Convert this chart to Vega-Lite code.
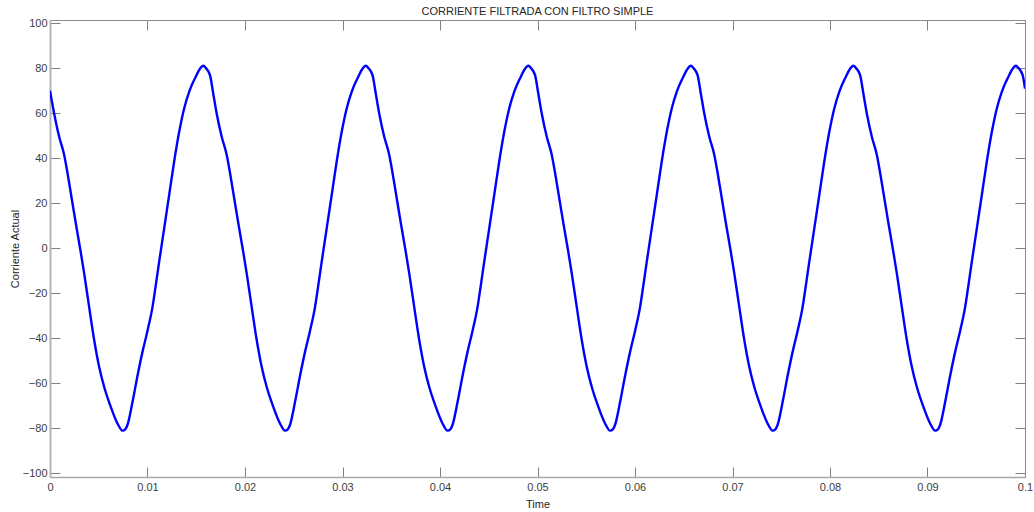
{
  "$schema": "https://vega.github.io/schema/vega-lite/v6.json",
  "width": 975,
  "height": 457,
  "autosize": {"type": "none"},
  "padding": {"left": 50, "top": 20, "right": 9, "bottom": 35},
  "background": "white",
  "title": {
    "text": "CORRIENTE FILTRADA CON FILTRO SIMPLE",
    "font": "Liberation Sans",
    "fontSize": 11,
    "fontWeight": "normal",
    "color": "#262626",
    "anchor": "middle",
    "frame": "group",
    "offset": 4,
    "dy": 4
  },
  "config": {
    "view": {"stroke": null},
    "axis": {
      "grid": false,
      "labelFont": "Liberation Sans",
      "labelFontSize": 11,
      "labelColor": "#404040",
      "titleFont": "Liberation Sans",
      "titleFontSize": 11,
      "titleFontWeight": "normal",
      "titleColor": "#262626",
      "tickColor": "#808080",
      "tickSize": -10,
      "tickWidth": 1,
      "labelOverlap": false,
      "labelFlush": false,
      "labelBound": false
    }
  },
  "data": {
    "values": [
      {"t": 0.0, "corriente": 70.1},
      {"t": 0.00042, "corriente": 60.1},
      {"t": 0.00094, "corriente": 49.6},
      {"t": 0.00145, "corriente": 41.6},
      {"t": 0.00179, "corriente": 33.6},
      {"t": 0.00213, "corriente": 24.7},
      {"t": 0.00264, "corriente": 11.3},
      {"t": 0.00315, "corriente": -1.6},
      {"t": 0.0035, "corriente": -11.0},
      {"t": 0.00401, "corriente": -25.9},
      {"t": 0.00453, "corriente": -40.7},
      {"t": 0.00504, "corriente": -52.6},
      {"t": 0.00555, "corriente": -61.5},
      {"t": 0.00623, "corriente": -70.4},
      {"t": 0.00692, "corriente": -77.8},
      {"t": 0.00743, "corriente": -81.0},
      {"t": 0.00774, "corriente": -80.3},
      {"t": 0.00794, "corriente": -78.5},
      {"t": 0.00846, "corriente": -68.3},
      {"t": 0.00897, "corriente": -56.7},
      {"t": 0.00948, "corriente": -46.1},
      {"t": 0.00999, "corriente": -36.8},
      {"t": 0.01051, "corriente": -26.1},
      {"t": 0.01085, "corriente": -16.3},
      {"t": 0.01119, "corriente": -6.1},
      {"t": 0.01171, "corriente": 8.9},
      {"t": 0.01222, "corriente": 23.7},
      {"t": 0.01273, "corriente": 38.5},
      {"t": 0.01325, "corriente": 51.8},
      {"t": 0.01376, "corriente": 62.2},
      {"t": 0.01427, "corriente": 69.6},
      {"t": 0.01495, "corriente": 76.3},
      {"t": 0.01533, "corriente": 79.5},
      {"t": 0.01572, "corriente": 81.2},
      {"t": 0.016, "corriente": 80.1},
      {"t": 0.01641, "corriente": 77.0},
      {"t": 0.01675, "corriente": 68.6},
      {"t": 0.01709, "corriente": 60.1},
      {"t": 0.01761, "corriente": 49.6},
      {"t": 0.01812, "corriente": 41.6},
      {"t": 0.01846, "corriente": 33.6},
      {"t": 0.0188, "corriente": 24.7},
      {"t": 0.01931, "corriente": 11.3},
      {"t": 0.01982, "corriente": -1.6},
      {"t": 0.02017, "corriente": -11.0},
      {"t": 0.02068, "corriente": -25.9},
      {"t": 0.0212, "corriente": -40.7},
      {"t": 0.02171, "corriente": -52.6},
      {"t": 0.02222, "corriente": -61.5},
      {"t": 0.0229, "corriente": -70.4},
      {"t": 0.02359, "corriente": -77.8},
      {"t": 0.0241, "corriente": -81.0},
      {"t": 0.02441, "corriente": -80.3},
      {"t": 0.02461, "corriente": -78.5},
      {"t": 0.02513, "corriente": -68.3},
      {"t": 0.02564, "corriente": -56.7},
      {"t": 0.02615, "corriente": -46.1},
      {"t": 0.02666, "corriente": -36.8},
      {"t": 0.02718, "corriente": -26.1},
      {"t": 0.02752, "corriente": -16.3},
      {"t": 0.02786, "corriente": -6.1},
      {"t": 0.02838, "corriente": 8.9},
      {"t": 0.02889, "corriente": 23.7},
      {"t": 0.0294, "corriente": 38.5},
      {"t": 0.02992, "corriente": 51.8},
      {"t": 0.03043, "corriente": 62.2},
      {"t": 0.03094, "corriente": 69.6},
      {"t": 0.03162, "corriente": 76.3},
      {"t": 0.032, "corriente": 79.5},
      {"t": 0.03239, "corriente": 81.2},
      {"t": 0.03267, "corriente": 80.1},
      {"t": 0.03308, "corriente": 77.0},
      {"t": 0.03342, "corriente": 68.6},
      {"t": 0.03376, "corriente": 60.1},
      {"t": 0.03428, "corriente": 49.6},
      {"t": 0.03479, "corriente": 41.6},
      {"t": 0.03513, "corriente": 33.6},
      {"t": 0.03547, "corriente": 24.7},
      {"t": 0.03598, "corriente": 11.3},
      {"t": 0.03649, "corriente": -1.6},
      {"t": 0.03684, "corriente": -11.0},
      {"t": 0.03735, "corriente": -25.9},
      {"t": 0.03787, "corriente": -40.7},
      {"t": 0.03838, "corriente": -52.6},
      {"t": 0.03889, "corriente": -61.5},
      {"t": 0.03957, "corriente": -70.4},
      {"t": 0.04026, "corriente": -77.8},
      {"t": 0.04077, "corriente": -81.0},
      {"t": 0.04108, "corriente": -80.3},
      {"t": 0.04128, "corriente": -78.5},
      {"t": 0.0418, "corriente": -68.3},
      {"t": 0.04231, "corriente": -56.7},
      {"t": 0.04282, "corriente": -46.1},
      {"t": 0.04333, "corriente": -36.8},
      {"t": 0.04385, "corriente": -26.1},
      {"t": 0.04419, "corriente": -16.3},
      {"t": 0.04453, "corriente": -6.1},
      {"t": 0.04505, "corriente": 8.9},
      {"t": 0.04556, "corriente": 23.7},
      {"t": 0.04607, "corriente": 38.5},
      {"t": 0.04659, "corriente": 51.8},
      {"t": 0.0471, "corriente": 62.2},
      {"t": 0.04761, "corriente": 69.6},
      {"t": 0.04829, "corriente": 76.3},
      {"t": 0.04867, "corriente": 79.5},
      {"t": 0.04906, "corriente": 81.2},
      {"t": 0.04934, "corriente": 80.1},
      {"t": 0.04975, "corriente": 77.0},
      {"t": 0.05009, "corriente": 68.6},
      {"t": 0.05043, "corriente": 60.1},
      {"t": 0.05095, "corriente": 49.6},
      {"t": 0.05146, "corriente": 41.6},
      {"t": 0.0518, "corriente": 33.6},
      {"t": 0.05214, "corriente": 24.7},
      {"t": 0.05265, "corriente": 11.3},
      {"t": 0.05316, "corriente": -1.6},
      {"t": 0.05351, "corriente": -11.0},
      {"t": 0.05402, "corriente": -25.9},
      {"t": 0.05454, "corriente": -40.7},
      {"t": 0.05505, "corriente": -52.6},
      {"t": 0.05556, "corriente": -61.5},
      {"t": 0.05624, "corriente": -70.4},
      {"t": 0.05693, "corriente": -77.8},
      {"t": 0.05744, "corriente": -81.0},
      {"t": 0.05775, "corriente": -80.3},
      {"t": 0.05795, "corriente": -78.5},
      {"t": 0.05847, "corriente": -68.3},
      {"t": 0.05898, "corriente": -56.7},
      {"t": 0.05949, "corriente": -46.1},
      {"t": 0.06, "corriente": -36.8},
      {"t": 0.06052, "corriente": -26.1},
      {"t": 0.06086, "corriente": -16.3},
      {"t": 0.0612, "corriente": -6.1},
      {"t": 0.06172, "corriente": 8.9},
      {"t": 0.06223, "corriente": 23.7},
      {"t": 0.06274, "corriente": 38.5},
      {"t": 0.06326, "corriente": 51.8},
      {"t": 0.06377, "corriente": 62.2},
      {"t": 0.06428, "corriente": 69.6},
      {"t": 0.06496, "corriente": 76.3},
      {"t": 0.06534, "corriente": 79.5},
      {"t": 0.06573, "corriente": 81.2},
      {"t": 0.06601, "corriente": 80.1},
      {"t": 0.06642, "corriente": 77.0},
      {"t": 0.06676, "corriente": 68.6},
      {"t": 0.0671, "corriente": 60.1},
      {"t": 0.06762, "corriente": 49.6},
      {"t": 0.06813, "corriente": 41.6},
      {"t": 0.06847, "corriente": 33.6},
      {"t": 0.06881, "corriente": 24.7},
      {"t": 0.06932, "corriente": 11.3},
      {"t": 0.06983, "corriente": -1.6},
      {"t": 0.07018, "corriente": -11.0},
      {"t": 0.07069, "corriente": -25.9},
      {"t": 0.07121, "corriente": -40.7},
      {"t": 0.07172, "corriente": -52.6},
      {"t": 0.07223, "corriente": -61.5},
      {"t": 0.07291, "corriente": -70.4},
      {"t": 0.0736, "corriente": -77.8},
      {"t": 0.07411, "corriente": -81.0},
      {"t": 0.07442, "corriente": -80.3},
      {"t": 0.07462, "corriente": -78.5},
      {"t": 0.07514, "corriente": -68.3},
      {"t": 0.07565, "corriente": -56.7},
      {"t": 0.07616, "corriente": -46.1},
      {"t": 0.07667, "corriente": -36.8},
      {"t": 0.07719, "corriente": -26.1},
      {"t": 0.07753, "corriente": -16.3},
      {"t": 0.07787, "corriente": -6.1},
      {"t": 0.07839, "corriente": 8.9},
      {"t": 0.0789, "corriente": 23.7},
      {"t": 0.07941, "corriente": 38.5},
      {"t": 0.07993, "corriente": 51.8},
      {"t": 0.08044, "corriente": 62.2},
      {"t": 0.08095, "corriente": 69.6},
      {"t": 0.08163, "corriente": 76.3},
      {"t": 0.08201, "corriente": 79.5},
      {"t": 0.0824, "corriente": 81.2},
      {"t": 0.08268, "corriente": 80.1},
      {"t": 0.08309, "corriente": 77.0},
      {"t": 0.08343, "corriente": 68.6},
      {"t": 0.08377, "corriente": 60.1},
      {"t": 0.08429, "corriente": 49.6},
      {"t": 0.0848, "corriente": 41.6},
      {"t": 0.08514, "corriente": 33.6},
      {"t": 0.08548, "corriente": 24.7},
      {"t": 0.08599, "corriente": 11.3},
      {"t": 0.0865, "corriente": -1.6},
      {"t": 0.08685, "corriente": -11.0},
      {"t": 0.08736, "corriente": -25.9},
      {"t": 0.08788, "corriente": -40.7},
      {"t": 0.08839, "corriente": -52.6},
      {"t": 0.0889, "corriente": -61.5},
      {"t": 0.08958, "corriente": -70.4},
      {"t": 0.09027, "corriente": -77.8},
      {"t": 0.09078, "corriente": -81.0},
      {"t": 0.09109, "corriente": -80.3},
      {"t": 0.09129, "corriente": -78.5},
      {"t": 0.09181, "corriente": -68.3},
      {"t": 0.09232, "corriente": -56.7},
      {"t": 0.09283, "corriente": -46.1},
      {"t": 0.09334, "corriente": -36.8},
      {"t": 0.09386, "corriente": -26.1},
      {"t": 0.0942, "corriente": -16.3},
      {"t": 0.09454, "corriente": -6.1},
      {"t": 0.09506, "corriente": 8.9},
      {"t": 0.09557, "corriente": 23.7},
      {"t": 0.09608, "corriente": 38.5},
      {"t": 0.0966, "corriente": 51.8},
      {"t": 0.09711, "corriente": 62.2},
      {"t": 0.09762, "corriente": 69.6},
      {"t": 0.0983, "corriente": 76.3},
      {"t": 0.09868, "corriente": 79.5},
      {"t": 0.09907, "corriente": 81.2},
      {"t": 0.09935, "corriente": 80.1},
      {"t": 0.09976, "corriente": 77.0},
      {"t": 0.1, "corriente": 71.0}
    ]
  },
  "resolve": {"axis": {"x": "independent", "y": "independent"}},
  "layer": [
    {
      "mark": {"type": "line", "color": "#0000ff", "strokeWidth": 2.4, "interpolate": "monotone", "clip": true},
      "encoding": {
        "x": {
          "field": "t",
          "type": "quantitative",
          "scale": {"domain": [0, 0.1], "nice": false, "zero": false},
          "axis": {
            "orient": "bottom",
            "title": "Time",
            "values": [0, 0.01, 0.02, 0.03, 0.04, 0.05, 0.06, 0.07, 0.08, 0.09, 0.1],
            "format": "~g",
            "domainColor": "#a8a8a8",
            "domainWidth": 1.5,
            "labelPadding": 14,
            "titlePadding": 6
          }
        },
        "y": {
          "field": "corriente",
          "type": "quantitative",
          "scale": {"domain": [-101.6, 101.5], "nice": false, "zero": false},
          "axis": {
            "orient": "left",
            "title": "Corriente Actual",
            "values": [-100, -80, -60, -40, -20, 0, 20, 40, 60, 80, 100],
            "format": "d",
            "domainColor": "#b4b4b4",
            "domainWidth": 2,
            "labelPadding": 13,
            "titlePadding": 2
          }
        }
      }
    },
    {
      "mark": {"type": "line", "opacity": 0},
      "encoding": {
        "x": {
          "field": "t",
          "type": "quantitative",
          "axis": {
            "orient": "top",
            "title": null,
            "labels": false,
            "values": [0, 0.01, 0.02, 0.03, 0.04, 0.05, 0.06, 0.07, 0.08, 0.09, 0.1],
            "domainColor": "#8c8c8c",
            "domainWidth": 1
          }
        },
        "y": {
          "field": "corriente",
          "type": "quantitative",
          "axis": {
            "orient": "right",
            "title": null,
            "labels": false,
            "values": [-100, -80, -60, -40, -20, 0, 20, 40, 60, 80, 100],
            "domainColor": "#8c8c8c",
            "domainWidth": 1
          }
        }
      }
    }
  ]
}
